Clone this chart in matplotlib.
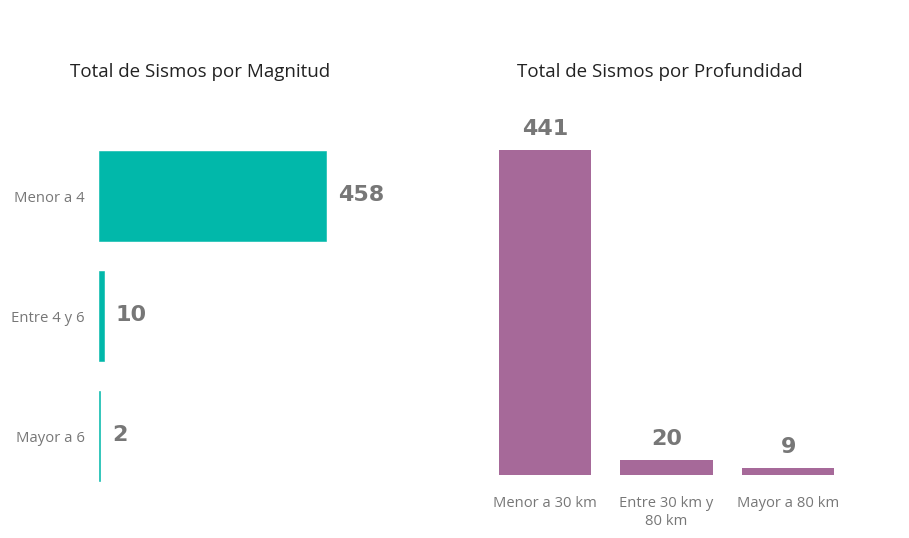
import matplotlib.pyplot as plt

# Data
mag_labels = ['Menor a 4', 'Entre 4 y 6', 'Mayor a 6']
mag_values = [458, 10, 2]

prof_labels = ['Menor a 30 km', 'Entre 30 km y\n80 km', 'Mayor a 80 km']
prof_values = [441, 20, 9]

TEAL = '#01B8AA'
PURPLE = '#A66999'
GRAY = '#777777'
W, H = 909, 538

plt.rcParams['font.family'] = ['Open Sans', 'DejaVu Sans']

fig = plt.figure(figsize=(W / 100, H / 100), dpi=100)


def px_box(left, top, right, bottom):
    # pixel box -> figure fraction [l, b, w, h]
    return [left / W, 1 - bottom / H, (right - left) / W, (bottom - top) / H]


# Left chart: horizontal bars
ax1 = fig.add_axes(px_box(99, 136, 440, 496))
ypos = range(len(mag_values))
ax1.barh(ypos, mag_values, height=0.75, color=TEAL, edgecolor=TEAL, linewidth=0.4)
ax1.set_ylim(len(mag_values) - 0.5, -0.5)
ax1.set_xlim(0, 688)
ax1.set_yticks(list(ypos))
ax1.set_yticklabels(mag_labels, color=GRAY, fontsize=10.7)
ax1.tick_params(axis='y', length=0, pad=10)
ax1.set_xticks([])
for s in ax1.spines.values():
    s.set_visible(False)
for y, v in zip(ypos, mag_values):
    ax1.annotate(str(v), (v, y), xytext=(12, 1), textcoords='offset pixels',
                 ha='left', va='center', fontsize=16, fontweight='bold',
                 color=GRAY, family='DejaVu Sans')

# Right chart: vertical bars
ax2 = fig.add_axes(px_box(484, 110, 849, 475))
xpos = range(len(prof_values))
ax2.bar(xpos, prof_values, width=0.76, color=PURPLE)
ax2.set_xlim(-0.5, len(prof_values) - 0.5)
ax2.set_ylim(0, 495)
ax2.set_xticks(list(xpos))
ax2.set_xticklabels(prof_labels, color=GRAY, fontsize=10.6, linespacing=1.3)
ax2.tick_params(axis='x', length=0, pad=15)
ax2.set_yticks([])
for s in ax2.spines.values():
    s.set_visible(False)
for x, v in zip(xpos, prof_values):
    ax2.annotate(str(v), (x, v), xytext=(0, 15), textcoords='offset pixels',
                 ha='center', va='baseline', fontsize=16, fontweight='bold',
                 color=GRAY, family='DejaVu Sans')

# Titles
fig.text(200 / W, 1 - 72 / H, 'Total de Sismos por Magnitud', ha='center',
         va='center', fontsize=13.5, color='#222222')
fig.text(660 / W, 1 - 72 / H, 'Total de Sismos por Profundidad', ha='center',
         va='center', fontsize=13.5, color='#222222')

fig.savefig('out.png', dpi=100, facecolor='white')
